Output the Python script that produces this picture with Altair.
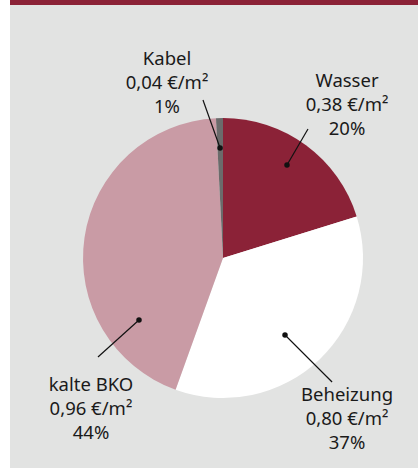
import numpy as np
import pandas as pd
import altair as alt

# --- data ---
kategorien = ["Wasser", "Beheizung", "kalte BKO", "Kabel"]
kosten = ["0,38", "0,80", "0,96", "0,04"]
prozent = ["20%", "37%", "44%", "1%"]
anteil = [20.2, 35.3, 43.7, 0.8]          # drawn slice shares
farben = ["#8B2237", "#FFFFFF", "#C99BA5", "#6B6B6B"]

# --- annotation layout (units of the pie radius, relative to the centre) ---
label_x = [0.886, 0.886, -0.943, -0.40]
label_y = [1.096, -1.150, -1.079, 1.25]   # centre of the middle line
punkt_x = [0.457, 0.443, -0.600, -0.021]
punkt_y = [0.664, -0.550, -0.443, 0.786]
linie_x = [0.607, 0.779, -0.893, -0.143]
linie_y = [0.921, -0.886, -0.707, 1.129]

W, H = 408, 468
R = 140
CX, CY = 213, 258
LH = 24

df = pd.DataFrame({
    "kategorie": kategorien,
    "anteil": anteil,
    "ordnung": list(range(len(kategorien))),
    "text": [f"{k}\n{v} €/m²\n{p}" for k, v, p in zip(kategorien, kosten, prozent)],
    "lx": label_x, "ly": [v + LH / R for v in label_y],
    "px": punkt_x, "py": punkt_y,
    "qx": linie_x, "qy": linie_y,
})

xs = alt.Scale(domain=[-CX / R, (W - CX) / R], nice=False, zero=False)
ys = alt.Scale(domain=[-(H - CY) / R, CY / R], nice=False, zero=False)
noax = dict(axis=None)

pie = alt.Chart(df).mark_arc(radius=R, stroke=None).encode(
    theta=alt.Theta("anteil:Q", stack=True),
    order=alt.Order("ordnung:Q"),
    color=alt.Color("kategorie:N", scale=alt.Scale(domain=kategorien, range=farben), legend=None),
    x=alt.value(CX), y=alt.value(CY),
)

bar = alt.Chart(df).mark_rect(color="#8B2237").encode(
    x=alt.value(0), x2=alt.value(W), y=alt.value(0), y2=alt.value(5)
)

lines = alt.Chart(df).mark_rule(color="#111111", strokeWidth=1.2).encode(
    x=alt.X("px:Q", scale=xs, **noax), y=alt.Y("py:Q", scale=ys, **noax),
    x2="qx:Q", y2="qy:Q",
)

dots = alt.Chart(df).mark_point(filled=True, color="#111111", size=30, opacity=1).encode(
    x=alt.X("px:Q", scale=xs, **noax), y=alt.Y("py:Q", scale=ys, **noax),
)

labels = alt.Chart(df).mark_text(
    font="Noto Sans", fontSize=18.5, lineBreak="\n", lineHeight=LH,
    align="center", baseline="middle", color="#1a1a1a",
).encode(
    x=alt.X("lx:Q", scale=xs, **noax), y=alt.Y("ly:Q", scale=ys, **noax),
    text="text:N",
)

chart = alt.layer(pie, bar, lines, dots, labels).properties(
    width=W, height=H,
    padding={"left": 10, "top": 0, "right": 0, "bottom": 0},
    autosize=alt.AutoSizeParams(type="none"),
    background="#FFFFFF",
).configure_view(fill="#E2E3E2", stroke=None)

chart.save("out.html", embed_options={"renderer": "svg", "actions": False})
